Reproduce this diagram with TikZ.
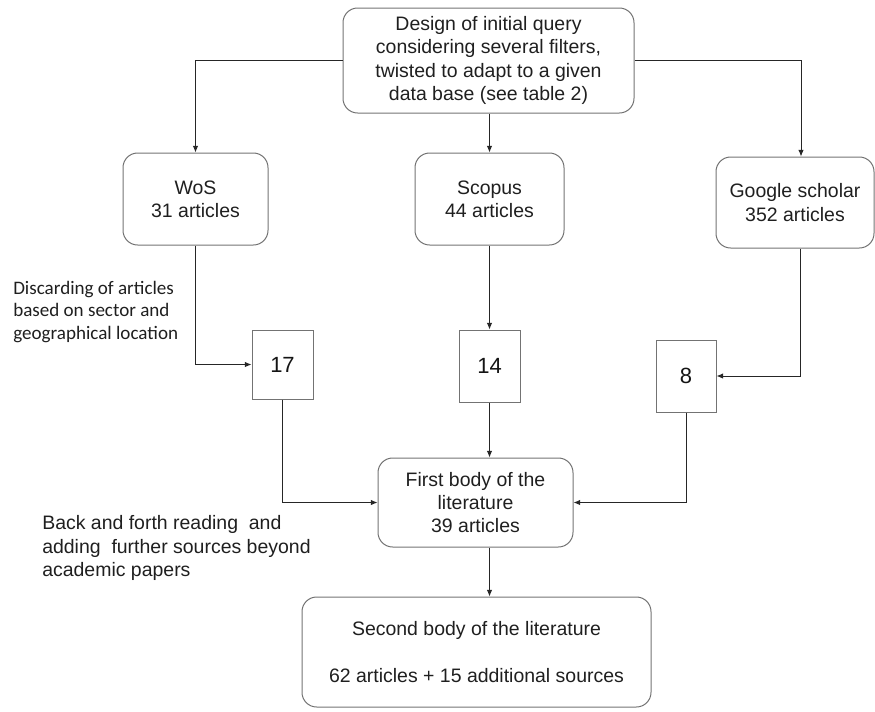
\documentclass[tikz,border=0pt]{standalone}
\usepackage{fontspec}
\setmainfont{Liberation Sans}
\newfontfamily\calibrifont{Carlito}
\usetikzlibrary{arrows.meta}
\tikzset{>={Latex[length=5pt,width=4.2pt]}}
\tikzset{
	roundbox/.style={draw=black!55, line width=0.75pt, rounded corners=11pt, align=center,
			inner sep=0pt, text=black!88, font=\fontsize{14.6}{17.4}\selectfont},
	numbox/.style={draw=black!55, line width=0.75pt, inner sep=0pt, text=black!92,
			font=\fontsize{16.5}{19}\selectfont},
	note/.style={anchor=west, align=left, inner sep=0pt, text=black!88,
			font=\fontsize{14.6}{17.4}\selectfont},
	link/.style={->, draw=black!85, line width=0.75pt}
}

\begin{document}
\begin{tikzpicture}[x=0.75pt, y=-0.75pt]
			\useasboundingbox (0,0) rectangle (875,711);

			% Query and data bases
			\node[roundbox, minimum width=218.25pt, minimum height=78.75pt] (query) at (488.5,60.5)
				{Design of initial query\\considering several filters,\\twisted to adapt to a given\\data base (see table 2)};
			\node[roundbox, minimum width=108.75pt, minimum height=69pt] (wos) at (195.5,199) {WoS\\31 articles};
			\node[roundbox, minimum width=111.75pt, minimum height=69pt] (scopus) at (489.5,199) {Scopus\\44 articles};
			\node[roundbox, minimum width=118.5pt, minimum height=68.25pt] (scholar) at (795,202.5) {Google scholar\\352 articles};

			% Remaining articles
			\node[numbox, minimum width=45.75pt, minimum height=51.75pt] (wosleft) at (282.5,364.5) {17};
			\node[numbox, minimum width=45.75pt, minimum height=54pt] (scopusleft) at (489.5,366) {14};
			\node[numbox, minimum width=45pt, minimum height=54pt] (scholarleft) at (686,376) {8};

			% Bodies of the literature
			\node[roundbox, minimum width=146.25pt, minimum height=66.75pt] (first) at (475.5,502.5)
				{First body of the\\literature\\39 articles};
			\node[roundbox, minimum width=261.75pt, minimum height=82.5pt] (second) at (476.5,652)
				{Second body of the literature\\[17.4pt]62 articles + 15 additional sources};

			% Side notes
			\node[note, font=\calibrifont\fontsize{14.3}{16.9}\selectfont] (discard) at (13,312)
				{Discarding of articles\\based on sector and\\geographical location};
			\node[note] (reading) at (42,548)
				{Back and forth reading\ \ and\\adding\ \ further sources beyond\\academic papers};

			% Arrows
			\draw[link] (query.west) -| (wos.north);
			\draw[link] (scopus.north |- query.south) -- (scopus.north);
			\draw[link] (query.east) -| ([xshift=4.5pt]scholar.north);
			\draw[link] (wos.south) |- (wosleft.west);
			\draw[link] (scopus.south) -- (scopusleft.north);
			\draw[link] ([xshift=3.75pt]scholar.south) |- (scholarleft.east);
			\draw[link] (wosleft.south) |- (first.west);
			\draw[link] (scopusleft.south) -- (scopusleft.south |- first.north);
			\draw[link] (scholarleft.south) |- (first.east);
			\draw[link] (first.south -| scopusleft.south) -- (second.north -| scopusleft.south);
		\end{tikzpicture}
\end{document}
